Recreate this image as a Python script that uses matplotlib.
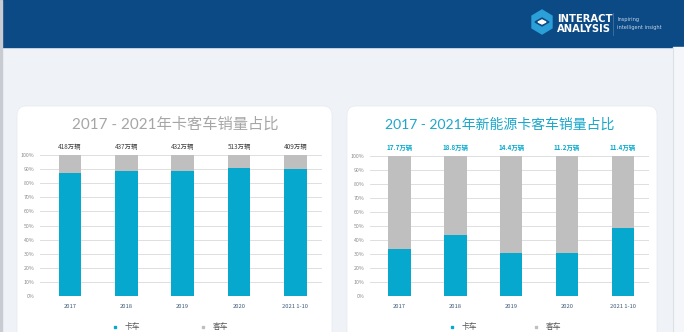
import numpy as np
import matplotlib.pyplot as plt
from matplotlib.patches import FancyBboxPatch, Rectangle, Polygon

plt.rcParams['font.family'] = ['Noto Sans CJK SC', 'DejaVu Sans']

# donnees
annees = ['2017', '2018', '2019', '2020', '2021 1-10']
yticks_lab = ['0%', '10%', '20%', '30%', '40%', '50%', '60%', '70%', '80%', '90%', '100%']

# graphe gauche : toutes motorisations
camion_g = [87.4, 88.9, 88.9, 90.8, 90.0]
total_g = ['418万辆', '437万辆', '432万辆', '513万辆', '409万辆']

# graphe droit : new energy
camion_d = [33.5, 43.5, 30.4, 30.4, 48.5]
total_d = ['17.7万辆', '18.8万辆', '14.4万辆', '11.2万辆', '11.4万辆']

W, H = 684, 332
cyan = '#06a9cd'
gris = '#bfbfbf'
fond = '#eff2f7'
bleu_entete = '#0c4a86'

fig = plt.figure(figsize=(W/100, H/100), dpi=100)

# axe de fond en pixels
bg = fig.add_axes([0, 0, 1, 1], zorder=-1)
bg.set_xlim(0, W)
bg.set_ylim(H, 0)
bg.axis('off')
bg.add_patch(Rectangle((0, 0), W, H, color=fond))
bg.add_patch(Rectangle((0, 0), W, 47, color=bleu_entete))
bg.add_patch(Rectangle((0, 0), 1.5, H, color='#c8ccd2'))
bg.add_patch(Rectangle((673, 47), 11, H, color='#f4f6f9'))
bg.plot([673, 673], [47, H], color='#dde1e6', lw=0.8)

# cartes blanches
for x0, x1 in [(17, 332), (347, 657)]:
    bg.add_patch(FancyBboxPatch((x0, 106), x1 - x0, 260,
                                boxstyle='round,pad=0,rounding_size=9',
                                fc='white', ec='#e6e9ee', lw=0.5))

# logo
cx, cy = 542, 22
bg.add_patch(Polygon([[cx, cy-12], [cx+10, cy-6], [cx+10, cy+6], [cx, cy+12],
                      [cx-10, cy+6], [cx-10, cy-6]], closed=True, color='#2a9fd8'))
bg.add_patch(Polygon([[cx-7, cy], [cx, cy-4], [cx+7, cy], [cx, cy+4]], closed=True, color=bleu_entete))
bg.add_patch(Polygon([[cx-4, cy], [cx, cy-2], [cx+4, cy], [cx, cy+2]], closed=True, color='white'))
bg.text(557, 19, 'INTERACT', color='white', fontsize=7.2, fontweight='bold',
        family='DejaVu Sans', va='center', ha='left')
bg.text(557, 29, 'ANALYSIS', color='white', fontsize=7.2, fontweight='bold',
        family='DejaVu Sans', va='center', ha='left')
bg.plot([613, 613], [13, 35], color='#5078a8', lw=0.5)
bg.text(617, 20, 'Inspiring', color='#c9d6e6', fontsize=3.6, va='center', family='DejaVu Sans')
bg.text(617, 27, 'intelligent insight', color='#c9d6e6', fontsize=3.6, va='center', family='DejaVu Sans')


def graphe(rect, camion, totaux, titre, coul_titre, taille_titre, coul_total, xt, leg):
    ax = fig.add_axes(rect)
    x = np.arange(len(annees))
    bus = [100 - c for c in camion]
    ax.bar(x, camion, width=0.4, color=cyan, zorder=3)
    ax.bar(x, bus, width=0.4, bottom=camion, color=gris, zorder=3)
    for i, t in enumerate(totaux):
        ax.text(x[i], 106, t, ha='center', va='center', fontsize=4.6,
                color=coul_total, fontweight='bold' if coul_total == cyan else 'normal')
    ax.set_ylim(0, 100)
    ax.set_xlim(-0.53, 4.47)
    ax.set_yticks(np.arange(0, 101, 10))
    ax.set_yticklabels(yticks_lab, fontsize=3.8, color='#8a8a8a')
    ax.set_xticks(x)
    ax.set_xticklabels(annees, fontsize=4.2, color='#3d5a78')
    ax.tick_params(length=0, pad=4)
    ax.tick_params(axis='x', pad=6)
    ax.grid(axis='y', color='#d9d9d9', lw=0.6, zorder=0)
    for s in ax.spines.values():
        s.set_visible(False)
    ax.set_facecolor('none')
    bg.text(xt, 124, titre, ha='center', va='center', fontsize=taille_titre, color=coul_titre,
            family=['Lato', 'Noto Sans CJK SC'])
    # legende
    bg.add_patch(Rectangle((leg[0] - 1, 326), 2.2, 2.2, color=cyan))
    bg.text(leg[0] + 10, 327, '卡车', fontsize=5.6, va='center', color='#555555')
    bg.add_patch(Rectangle((leg[1] - 1, 326), 2.2, 2.2, color=gris))
    bg.text(leg[1] + 10, 327, '客车', fontsize=5.6, va='center', color='#555555')
    return ax


graphe([40/W, 1 - 296/H, 282/W, 141/H], camion_g, total_g,
       '2017 - 2021年卡客车销量占比', '#a6a6a6', 11, '#404040', 175, (115, 203))
graphe([370/W, 1 - 296/H, 279/W, 140.5/H], camion_d, total_d,
       '2017 - 2021年新能源卡客车销量占比', '#1ba7cb', 10, cyan, 500, (452, 536))

plt.savefig('out.png', dpi=100)
